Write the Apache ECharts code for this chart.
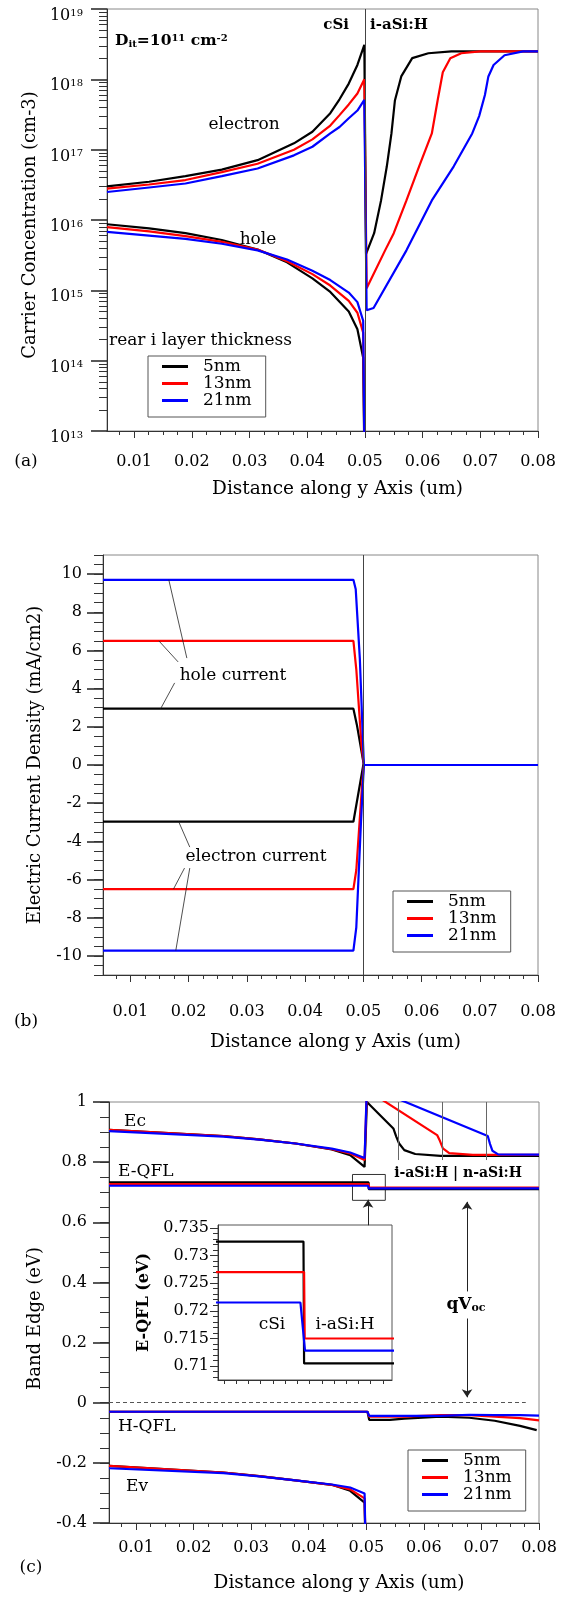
<!DOCTYPE html>
<html><head><meta charset="utf-8">
<script src="https://cdn.jsdelivr.net/npm/echarts@6/dist/echarts.min.js"></script>
<style>html,body{margin:0;padding:0;background:#fff}#c{width:574px;height:1598px}</style>
</head><body><div id="c"></div>
<script>
const F = 'DejaVu Serif';
const thickness = ['5nm', '13nm', '21nm'];
const colors = ['#000000', '#ff0000', '#0000ff'];
const xMin = 0.0053, xMax = 0.08;
const xTickLabels = [0.01, 0.02, 0.03, 0.04, 0.05, 0.06, 0.07, 0.08];
const xName = 'Distance along y Axis (um)';

// ---------- (a) carrier concentration ----------
const aX = [0.0053, 0.0126, 0.0189, 0.0252, 0.0314, 0.0377, 0.0409, 0.0440, 0.0456, 0.0472, 0.0487, 0.0499];
const aElec5  = [3.0e16, 3.5e16, 4.2e16, 5.2e16, 7.1e16, 1.23e17, 1.8e17, 3.3e17, 5.2e17, 8.7e17, 1.6e18, 3.1e18];
const aElec13 = [2.8e16, 3.2e16, 3.7e16, 4.8e16, 6.3e16, 1.0e17, 1.4e17, 2.2e17, 3.1e17, 4.4e17, 6.3e17, 1.0e18];
const aElec21 = [2.5e16, 2.9e16, 3.3e16, 4.2e16, 5.4e16, 8.3e16, 1.1e17, 1.7e17, 2.1e17, 2.8e17, 3.6e17, 5.1e17];
const aElec5_aSi  = [[0.0502,3.3e15],[0.0516,6.5e15],[0.0528,1.9e16],[0.0538,5.8e16],[0.0546,1.7e17],[0.0552,5.0e17],[0.0563,1.1e18],[0.0582,2.0e18],[0.0610,2.35e18],[0.0650,2.5e18],[0.08,2.5e18]];
const aElec13_aSi = [[0.0503,1.07e15],[0.0535,3.7e15],[0.0550,6.5e15],[0.0572,1.9e16],[0.0594,5.8e16],[0.0616,1.7e17],[0.0626,5.0e17],[0.0635,1.26e18],[0.0648,2.0e18],[0.0667,2.35e18],[0.0700,2.5e18],[0.08,2.5e18]];
const aElec21_aSi = [[0.0503,5.2e14],[0.0515,5.6e14],[0.0572,3.7e15],[0.0616,1.9e16],[0.0654,5.8e16],[0.0686,1.7e17],[0.0698,3.0e17],[0.0708,6.0e17],[0.0714,1.1e18],[0.0723,1.6e18],[0.0742,2.2e18],[0.0774,2.5e18],[0.08,2.5e18]];
const aHoleX  = [0.0053, 0.0126, 0.0189, 0.0252, 0.0314, 0.0365, 0.0409, 0.0440, 0.0472, 0.0487, 0.0497, 0.0500];
const aHole5  = [8.7e15, 7.6e15, 6.5e15, 5.2e15, 3.8e15, 2.5e15, 1.48e15, 9.5e14, 5.0e14, 2.8e14, 1.1e14, 1e12];
const aHole13 = [7.9e15, 6.9e15, 5.9e15, 4.9e15, 3.8e15, 2.6e15, 1.7e15, 1.17e15, 7.1e14, 4.8e14, 2.5e14, 1e12];
const aHole21 = [6.8e15, 6.0e15, 5.4e15, 4.6e15, 3.7e15, 2.75e15, 1.9e15, 1.4e15, 9.3e14, 6.8e14, 3.7e14, 1e12];
const aMajor = [1e13, 1e14, 1e15, 1e16, 1e17, 1e18, 1e19];

// ---------- (b) current density ----------
const bHole5  = [[0.0053,2.95],[0.0483,2.95],[0.0489,2.1],[0.0501,0],[0.08,0]];
const bHole13 = [[0.0053,6.5],[0.0483,6.5],[0.0488,5.0],[0.0497,1.0],[0.0501,0],[0.08,0]];
const bHole21 = [[0.0053,9.7],[0.0483,9.7],[0.0487,9.2],[0.0494,5.6],[0.0501,0],[0.08,0]];
const bElec5  = [[0.0053,-2.97],[0.0483,-2.97],[0.0500,0],[0.08,0]];
const bElec13 = [[0.0053,-6.5],[0.0483,-6.5],[0.0488,-5.5],[0.0498,-1.0],[0.0501,0],[0.08,0]];
const bElec21 = [[0.0053,-9.72],[0.0483,-9.72],[0.0488,-8.5],[0.0496,-3.0],[0.0501,0],[0.08,0]];
const bMajor = [-10, -8, -6, -4, -2, 0, 2, 4, 6, 8, 10];

// ---------- (c) band diagram ----------
const cX = [0.0053, 0.0252, 0.0314, 0.0377, 0.0440, 0.0472, 0.0497];
const cEc5  = [0.907, 0.887, 0.876, 0.862, 0.842, 0.823, 0.784];
const cEc13 = [0.907, 0.887, 0.876, 0.862, 0.843, 0.829, 0.807];
const cEc21 = [0.903, 0.885, 0.875, 0.862, 0.845, 0.832, 0.814];
const cEc5_aSi  = [[0.0501,1.0],[0.0547,0.912],[0.0552,0.885],[0.0557,0.862],[0.0566,0.84],[0.0585,0.827],[0.0629,0.821],[0.08,0.821]];
const cEc13_aSi = [[0.0501,1.04],[0.0623,0.89],[0.0628,0.87],[0.0633,0.846],[0.0644,0.83],[0.0685,0.824],[0.08,0.824]];
const cEc21_aSi = [[0.0501,1.053],[0.0711,0.887],[0.0715,0.86],[0.0719,0.838],[0.0729,0.826],[0.08,0.825]];
const cEq5  = [[0.0053,0.7325],[0.0504,0.7325],[0.05042,0.7105],[0.08,0.7105]];
const cEq13 = [[0.0053,0.727],[0.05042,0.727],[0.05044,0.715],[0.08,0.715]];
const cEq21 = [[0.0053,0.7215],[0.0503,0.7215],[0.05045,0.7128],[0.08,0.7128]];
const cHq5  = [[0.0053,-0.03],[0.0502,-0.03],[0.0505,-0.057],[0.0541,-0.057],[0.0566,-0.053],[0.0629,-0.046],[0.0679,-0.05],[0.0723,-0.06],[0.0767,-0.077],[0.0796,-0.091]];
const cHq13 = [[0.0053,-0.03],[0.0502,-0.03],[0.0505,-0.046],[0.0566,-0.046],[0.0629,-0.041],[0.0679,-0.041],[0.0723,-0.046],[0.0767,-0.051],[0.08,-0.059]];
const cHq21 = [[0.0053,-0.03],[0.0502,-0.03],[0.0505,-0.044],[0.0566,-0.044],[0.0629,-0.044],[0.0679,-0.04],[0.0723,-0.041],[0.0767,-0.041],[0.08,-0.043]];
const cEvX  = [0.0053, 0.0252, 0.0314, 0.0377, 0.0440, 0.0472, 0.0497, 0.0500];
const cEv5  = [-0.21, -0.232, -0.244, -0.258, -0.273, -0.293, -0.332, -0.6];
const cEv13 = [-0.21, -0.232, -0.244, -0.258, -0.273, -0.288, -0.318, -0.6];
const cEv21 = [-0.218, -0.234, -0.245, -0.258, -0.272, -0.282, -0.302, -0.6];
const cMajor = [-0.4, -0.2, 0, 0.2, 0.4, 0.6, 0.8, 1];
const insetMajor = [0.71, 0.715, 0.72, 0.725, 0.73, 0.735];

// tick helpers
function range(a, b, s) { const r = []; for (let i = 0; a + i * s <= b + 1e-12; i++) r.push(+(a + i * s).toFixed(6)); return r; }
const xMinor = range(0.0075, 0.08, 0.0025);
const aMinor = []; for (let d = 13; d < 19; d++) for (let m = 2; m <= 9; m++) aMinor.push(m * Math.pow(10, d));

const zip = (xs, ys) => xs.map((x, i) => [x, ys[i]]);
const TX = { color: '#000', fontFamily: F };

function xAxesFor(gi, margin, nameGap) {
  return [{
    type: 'value', gridIndex: gi, min: xMin, max: xMax, position: 'bottom',
    axisLine: { show: true, onZero: false, lineStyle: { color: '#333', width: 1 } },
    axisTick: { show: true, customValues: xTickLabels, length: 7, lineStyle: { color: '#333' } },
    axisLabel: { show: true, customValues: xTickLabels, formatter: v => v.toFixed(2), fontSize: 16, margin: margin, ...TX },
    splitLine: { show: false },
    name: xName, nameLocation: 'middle', nameGap: nameGap,
    nameTextStyle: { fontSize: 18.5, padding: [0, 0, 0, 30], ...TX }
  }, {
    type: 'value', gridIndex: gi, min: xMin, max: xMax, position: 'bottom',
    axisLine: { show: false, onZero: false },
    axisTick: { show: true, customValues: xMinor, length: 4, lineStyle: { color: '#333' } },
    axisLabel: { show: false }, splitLine: { show: false }
  }];
}

const xAxis = [
  ...xAxesFor(0, 23, 49),
  ...xAxesFor(1, 29, 58),
  ...xAxesFor(2, 17, 51),
  { type: 'value', gridIndex: 3, min: 0.0476, max: 0.0533, position: 'bottom',
    axisLine: { show: true, onZero: false, lineStyle: { color: '#333' } },
    axisTick: { show: true, customValues: range(0.0478, 0.0532, 0.0004), length: 4, lineStyle: { color: '#333' } },
    axisLabel: { show: false }, splitLine: { show: false } }
];

const yAxis = [
  { type: 'log', logBase: 10, gridIndex: 0, min: 1e13, max: 1e19, position: 'left',
    axisLine: { show: true, onZero: false, lineStyle: { color: '#333' } },
    axisTick: { show: true, customValues: aMajor, length: 16, lineStyle: { color: '#222', width: 1.5 } },
    axisLabel: { show: true, customValues: aMajor, margin: 24, padding: [14, 0, 0, 0],
      formatter: v => '{b|10}{s|' + Math.round(Math.log10(v)) + '}',
      rich: { b: { fontSize: 16, ...TX }, s: { fontSize: 10, verticalAlign: 'top', ...TX } } },
    splitLine: { show: false },
    name: 'Carrier Concentration (cm-3)', nameLocation: 'middle', nameRotate: 90, nameGap: 63,
    nameTextStyle: { fontSize: 18, padding: [0, 10, 0, 0], ...TX } },
  { type: 'log', logBase: 10, gridIndex: 0, min: 1e13, max: 1e19, position: 'left',
    axisLine: { show: false, onZero: false },
    axisTick: { show: true, customValues: aMinor, length: 8, lineStyle: { color: '#333' } },
    axisLabel: { show: false }, splitLine: { show: false } },
  { type: 'value', gridIndex: 1, min: -11, max: 11, position: 'left',
    axisLine: { show: true, onZero: false, lineStyle: { color: '#333' } },
    axisTick: { show: true, customValues: bMajor, length: 16, lineStyle: { color: '#222', width: 1.5 } },
    axisLabel: { show: true, customValues: bMajor, margin: 21, padding: [14, 0, 0, 0], fontSize: 16, ...TX },
    splitLine: { show: false },
    name: 'Electric Current Density (mA/cm2)', nameLocation: 'middle', nameRotate: 90, nameGap: 59,
    nameTextStyle: { fontSize: 18, ...TX } },
  { type: 'value', gridIndex: 1, min: -11, max: 11, position: 'left',
    axisLine: { show: false, onZero: false },
    axisTick: { show: true, customValues: range(-11, 11, 0.5), length: 9, lineStyle: { color: '#333' } },
    axisLabel: { show: false }, splitLine: { show: false } },
  { type: 'value', gridIndex: 2, min: -0.4, max: 1, position: 'left',
    axisLine: { show: true, onZero: false, lineStyle: { color: '#333' } },
    axisTick: { show: true, customValues: cMajor, length: 16, lineStyle: { color: '#222', width: 1.5 } },
    axisLabel: { show: true, customValues: cMajor, margin: 22, padding: [14, 0, 0, 0], fontSize: 16,
      formatter: v => String(Math.round(v * 10) / 10), ...TX },
    splitLine: { show: false },
    name: 'Band Edge (eV)', nameLocation: 'middle', nameRotate: 90, nameGap: 65,
    nameTextStyle: { fontSize: 18, padding: [0, 12, 0, 0], ...TX } },
  { type: 'value', gridIndex: 2, min: -0.4, max: 1, position: 'left',
    axisLine: { show: false, onZero: false },
    axisTick: { show: true, customValues: range(-0.4, 1, 0.05), length: 9, lineStyle: { color: '#333' } },
    axisLabel: { show: false }, splitLine: { show: false } },
  { type: 'value', gridIndex: 3, min: 0.7075, max: 0.7355, position: 'left',
    axisLine: { show: true, onZero: false, lineStyle: { color: '#333' } },
    axisTick: { show: true, customValues: insetMajor, length: 8, lineStyle: { color: '#333' } },
    axisLabel: { show: true, customValues: insetMajor, margin: 9, padding: [12, 0, 0, 0], fontSize: 16,
      formatter: v => String(+v.toFixed(3)), ...TX },
    splitLine: { show: false },
    name: 'E-QFL (eV)', nameLocation: 'middle', nameRotate: 90, nameGap: 66,
    nameTextStyle: { fontSize: 16, fontWeight: 'bold', ...TX } },
  { type: 'value', gridIndex: 3, min: 0.7075, max: 0.7355, position: 'left',
    axisLine: { show: false, onZero: false },
    axisTick: { show: true, customValues: range(0.708, 0.735, 0.001), length: 5, lineStyle: { color: '#333' } },
    axisLabel: { show: false }, splitLine: { show: false } }
];

const grid = [
  { left: 107, top: 9, width: 431, height: 422, show: true, borderColor: '#888', borderWidth: 1 },
  { left: 103, top: 555, width: 435, height: 420, show: true, borderColor: '#888', borderWidth: 1 },
  { left: 109, top: 1102, width: 430, height: 421, show: true, borderColor: '#888', borderWidth: 1 },
  { left: 218, top: 1225, width: 174, height: 155, show: true, borderColor: '#555', borderWidth: 1, backgroundColor: '#fff' }
];

function line(name, ci, data, xi, yi, extra) {
  return Object.assign({ type: 'line', name: name, xAxisIndex: xi, yAxisIndex: yi, data: data,
    showSymbol: false, symbol: 'none', clip: true, animation: false,
    color: colors[ci], lineStyle: { color: colors[ci], width: 2.2 } }, extra || {});
}
const thin = { color: '#222', width: 0.8, type: 'solid' };
const seg = (x1, y1, x2, y2, endArrow, ls) => [
  { coord: [x1, y1], lineStyle: ls || thin },
  { coord: [x2, y2], symbol: endArrow ? 'arrow' : 'none' }];
const markLines = (data) => ({ silent: true, symbol: ['none', 'none'], symbolSize: 8,
  label: { show: false }, lineStyle: thin, data: data });
const vLine = (x) => ({ xAxis: x, lineStyle: { color: '#444', width: 1, type: 'solid' } });

const aElec = [[aElec5, aElec5_aSi], [aElec13, aElec13_aSi], [aElec21, aElec21_aSi]];
const aHole = [aHole5, aHole13, aHole21];
const bHole = [bHole5, bHole13, bHole21];
const bElec = [bElec5, bElec13, bElec21];
const cEc = [[cEc5, cEc5_aSi], [cEc13, cEc13_aSi], [cEc21, cEc21_aSi]];
const cEq = [cEq5, cEq13, cEq21];
const cHq = [cHq5, cHq13, cHq21];
const cEv = [cEv5, cEv13, cEv21];

const series = [];
// (a)
thickness.forEach((n, i) => series.push(line(n, i, zip(aX, aElec[i][0]).concat(aElec[i][1]), 0, 0,
  i === 0 ? { markLine: markLines([vLine(0.05)]) } : null)));
thickness.forEach((n, i) => series.push(line(n, i, zip(aHoleX, aHole[i]), 0, 0)));
// (b)
thickness.forEach((n, i) => series.push(line(n, i, bHole[i], 2, 2, i === 0 ? { markLine: markLines([
  vLine(0.05),
  seg(0.0166, 9.7, 0.0197, 5.6), seg(0.0149, 6.5, 0.0182, 5.4), seg(0.0152, 2.95, 0.0176, 4.3),
  seg(0.0183, -2.97, 0.0202, -4.3), seg(0.0174, -6.5, 0.0193, -5.4), seg(0.0178, -9.72, 0.0202, -5.4)
]) } : null)));
thickness.forEach((n, i) => series.push(line(n, i, bElec[i], 2, 2)));
// (c)
thickness.forEach((n, i) => series.push(line(n, i, zip(cX, cEc[i][0]).concat(cEc[i][1]), 4, 4, i === 0 ? {
  markLine: markLines([
    seg(0.0555, 1, 0.0555, 0.807, false, { color: '#666', width: 1 }),
    seg(0.0632, 1, 0.0632, 0.807, false, { color: '#666', width: 1 }),
    seg(0.0709, 1, 0.0709, 0.807, false, { color: '#666', width: 1 }),
    seg(0.0053, 0, 0.0777, 0, false, { color: '#555', width: 1, type: [4, 3] }),
    seg(0.0675, 0.37, 0.0675, 0.668, true, { color: '#222', width: 1 }),
    seg(0.0675, 0.28, 0.0675, 0.018, true, { color: '#222', width: 1 }),
    seg(0.0503, 0.59, 0.0503, 0.675, true, { color: '#222', width: 1 })
  ]),
  markArea: { silent: true, itemStyle: { color: 'rgba(0,0,0,0)', borderColor: '#333', borderWidth: 1 },
    data: [[{ coord: [0.0476, 0.759] }, { coord: [0.0533, 0.673] }]] }
} : null)));
thickness.forEach((n, i) => series.push(line(n, i, cEq[i], 4, 4)));
thickness.forEach((n, i) => series.push(line(n, i, cHq[i], 4, 4)));
thickness.forEach((n, i) => series.push(line(n, i, zip(cEvX, cEv[i]), 4, 4)));
// inset
thickness.forEach((n, i) => series.push(line(n, i, cEq[i], 6, 6)));

function legendAt(left, top) {
  return { left: left, top: top, orient: 'vertical', data: thickness, icon: 'rect',
    itemWidth: 26, itemHeight: 3, itemGap: 0, selectedMode: false,
    padding: [2, 14, 8, 14], borderColor: '#555', borderWidth: 1, backgroundColor: '#fff',
    textStyle: { fontSize: 17, lineHeight: 8, padding: [9, 0, 0, 10], ...TX } };
}

const T = (x, y, text, o) => ({ type: 'text', x: x, y: y, silent: true, z: 100,
  style: Object.assign({ text: text, fill: '#000', fontFamily: F, fontSize: 17,
    align: 'left', verticalAlign: 'middle' }, o || {}) });
const rs = (sz, w) => ({ fontFamily: F, fontSize: sz, fontWeight: w || 'normal', fill: '#000' });

const graphic = [
  T(115, 41, '{n|D}{sub|it}{n|=10}{sup|11}{n| cm}{sup|-2}', { rich: {
    n: rs(15.5, 'bold'), sub: Object.assign(rs(10, 'bold'), { verticalAlign: 'bottom' }),
    sup: Object.assign(rs(10, 'bold'), { verticalAlign: 'top' }) } }),
  T(349, 25, 'cSi', { fontWeight: 'bold', fontSize: 15, align: 'right' }),
  T(370, 25, 'i-aSi:H', { fontWeight: 'bold', fontSize: 15 }),
  T(244, 125, 'electron', { align: 'center' }),
  T(258, 240, 'hole', { align: 'center' }),
  T(109, 341, 'rear i layer thickness'),
  T(26, 462, '(a)', { align: 'center' }),
  T(233, 676, 'hole current', { align: 'center' }),
  T(256, 857, 'electron current', { align: 'center' }),
  T(26, 1022, '(b)', { align: 'center' }),
  T(124, 1122, 'Ec'),
  T(118, 1172, 'E-QFL'),
  T(118, 1427, 'H-QFL'),
  T(126, 1487, 'Ev'),
  T(458, 1173, 'i-aSi:H | n-aSi:H', { fontWeight: 'bold', fontSize: 14, align: 'center' }),
  T(466, 1305, '{b|qV}{s|oc}', { align: 'center', rich: { b: rs(17, 'bold'),
    s: Object.assign(rs(11, 'bold'), { verticalAlign: 'bottom' }) } }),
  T(272, 1325, 'cSi', { align: 'center' }),
  T(345, 1325, 'i-aSi:H', { align: 'center' }),
  T(31, 1568, '(c)', { align: 'center' })
];

const chart = echarts.init(document.getElementById('c'), null, { renderer: 'canvas' });
chart.setOption({
  animation: false, backgroundColor: '#fff',
  grid: grid, xAxis: xAxis, yAxis: yAxis, series: series,
  legend: [legendAt(148, 356), legendAt(393, 891), legendAt(408, 1450)],
  graphic: graphic
});
</script></body></html>
